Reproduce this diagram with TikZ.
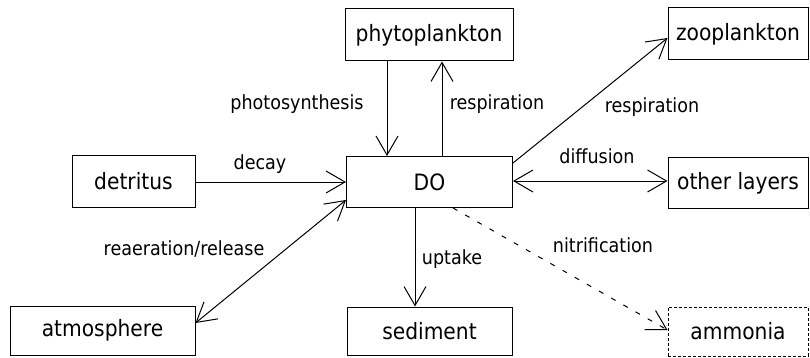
\documentclass[tikz,border=0pt]{standalone}
\usepackage{fontspec}
\setmainfont{DejaVu Sans}[FakeStretch=0.9]
\usetikzlibrary{arrows.meta}
\begin{document}
\begin{tikzpicture}[x=1pt,y=-1pt,
  box/.style={draw, line width=1pt, inner sep=0pt, font=\fontsize{22.5}{26}\selectfont},
  lbl/.style={anchor=base, inner sep=0pt, font=\fontsize{19.5}{22}\selectfont},
  conn/.style={line width=1pt},
  >={Straight Barb[length=19pt,width=22pt,line width=1pt]}]
\useasboundingbox (0,0) rectangle (810,358);
% boxes
\node[box, minimum width=168pt, minimum height=52pt] (phyto) at (429,35) {phytoplankton};
\node[box, minimum width=140pt, minimum height=52pt] (zoo) at (738,34) {zooplankton};
\node[box, minimum width=123pt, minimum height=51pt] (detritus) at (133.5,181.5) {detritus};
\node[box, minimum width=166pt, minimum height=51pt] (DO) at (429.5,182) {DO};
\node[box, minimum width=140pt, minimum height=50pt] (other) at (738,183) {other layers};
\node[box, minimum width=185pt, minimum height=49pt] (atmo) at (102.5,330.5) {atmosphere};
\node[box, minimum width=165pt, minimum height=48pt] (sed) at (429.5,331) {sediment};
\node[box, dash pattern=on 3pt off 2pt, minimum width=140pt, minimum height=49pt] (amm) at (738,331.5) {ammonia};
% connectors
\draw[conn,->] (phyto.south -| 387,0) -- (DO.north -| 387,0);
\draw[conn,->] (DO.north -| 442,0) -- (phyto.south -| 442,0);
\draw[conn,->] (DO.east |- 0,163) -- (zoo.west |- 0,38);
\draw[conn,<->] (DO.east |- 0,181) -- (other.west |- 0,181);
\draw[conn,->] (detritus.east |- 0,182) -- (DO.west |- 0,182);
\draw[conn,<->] (atmo.east |- 0,323) -- (DO.west |- 0,200);
\draw[conn,->] (DO.south -| 415,0) -- (sed.north -| 415,0);
\draw[conn,->, dash pattern=on 5pt off 9pt] (DO.south -| 453,0) -- (amm.west |- 0,330);
% labels
\node[lbl] (l1) at (297,110) {photosynthesis};
\node[lbl] (l2) at (497,110) {respiration};
\node[lbl] (l3) at (652,113) {respiration};
\node[lbl] (l4) at (597,164) {diffusion};
\node[lbl] (l5) at (260,170) {decay};
\node[lbl] (l6) at (184,255) {reaeration/release};
\node[lbl] (l7) at (452,264) {uptake};
\node[lbl] (l8) at (603,252) {nitrification};
\end{tikzpicture}
\end{document}
